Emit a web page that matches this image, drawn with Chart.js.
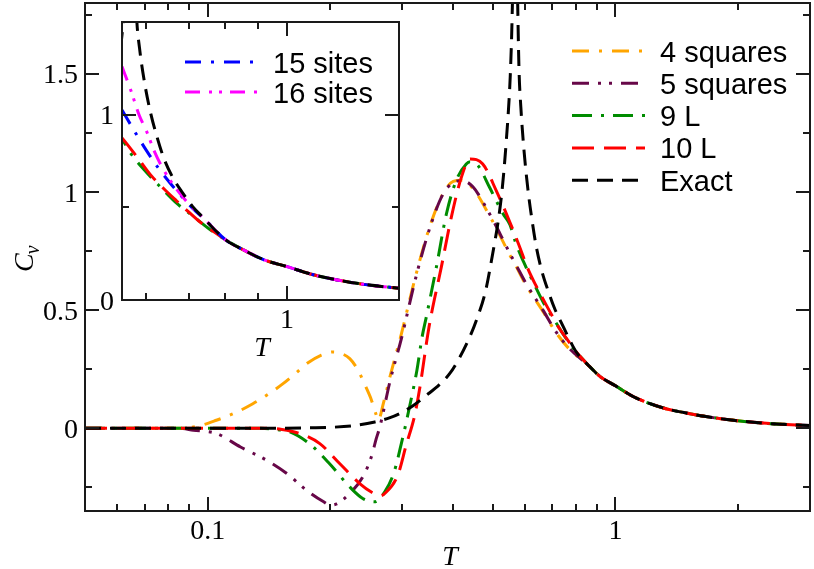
<!DOCTYPE html>
<html>
<head>
<meta charset="utf-8">
<script src="https://cdn.jsdelivr.net/npm/chart.js@4.4.1/dist/chart.umd.min.js"></script>
<style>
  html, body { margin: 0; padding: 0; background: #fff; }
  #wrap  { position: relative; width: 814px; height: 569px; }
  #main  { position: absolute; left: 0; top: 0; }
  #inset { position: absolute; left: 80px; top: 10px; }
</style>
</head>
<body>
<div id="wrap">
  <canvas id="main" width="814" height="569"></canvas>
  <canvas id="inset" width="330" height="350"></canvas>
</div>
<script>
// ======= Data =======
// high-T tail where every curve lies on the exact result
const tTail  = [0.86, 0.92, 1.0, 1.1, 1.2, 1.33, 1.5, 1.65, 1.9, 2.3, 2.7, 3.0];
const cvTail = [0.265, 0.217, 0.18, 0.136, 0.108, 0.083, 0.064, 0.051, 0.036, 0.022, 0.015, 0.012];

const tExact  = [0.05, 0.12, 0.15, 0.18, 0.2, 0.23, 0.257, 0.28, 0.3, 0.32, 0.344, 0.37, 0.392, 0.415,
                 0.439, 0.456, 0.48, 0.5, 0.515, 0.525, 0.532, 0.54, 0.547, 0.552, 0.558, 0.563, 0.567,
                 0.571, 0.575, 0.58, 0.586, 0.597, 0.61, 0.625, 0.64, 0.66, 0.685, 0.71, 0.74, 0.77, 0.8];
const cvExact = [0, 0, 0.0005, 0.002, 0.004, 0.012, 0.027, 0.045, 0.068, 0.098, 0.14, 0.185, 0.231, 0.3,
                 0.386, 0.457, 0.58, 0.74, 0.87, 0.98, 1.08, 1.22, 1.36, 1.49, 1.75, 2.15, 3.0,
                 2.2, 1.85, 1.52, 1.36, 1.17, 1.01, 0.875, 0.765, 0.665, 0.578, 0.505, 0.44, 0.378, 0.325];

const t4sq  = [0.05, 0.085, 0.095, 0.105, 0.117, 0.129, 0.141, 0.153, 0.164, 0.175, 0.19, 0.203, 0.213,
               0.223, 0.233, 0.242, 0.252, 0.258, 0.262, 0.27, 0.28, 0.2985, 0.3246, 0.35, 0.3773, 0.40,
               0.42, 0.447, 0.491, 0.53, 0.55, 0.571, 0.604, 0.664, 0.715, 0.771, 0.8];
const cv4sq = [0, 0, 0.01, 0.034, 0.066, 0.104, 0.145, 0.189, 0.232, 0.274, 0.31, 0.323, 0.316,
               0.295, 0.25, 0.19, 0.12, 0.065, 0.035, 0.11, 0.22, 0.40, 0.654, 0.851, 0.992, 1.045,
               1.05, 1.015, 0.9, 0.79, 0.735, 0.685, 0.605, 0.495, 0.405, 0.335, 0.31];

const t5sq  = [0.05, 0.085, 0.0922, 0.105, 0.1203, 0.1394, 0.156, 0.1746, 0.192, 0.2, 0.207, 0.223,
               0.24, 0.252, 0.259, 0.2643, 0.28, 0.2985, 0.3246, 0.35, 0.3773, 0.40, 0.42, 0.447,
               0.491, 0.53, 0.55, 0.571, 0.604, 0.664, 0.715, 0.771, 0.8];
const cv5sq = [0, 0, -0.008, -0.022, -0.079, -0.135, -0.19, -0.262, -0.31, -0.325, -0.32, -0.276,
               -0.206, -0.12, -0.044, 0.006, 0.2, 0.38, 0.645, 0.845, 0.99, 1.04, 1.048, 1.022,
               0.908, 0.798, 0.742, 0.69, 0.612, 0.5, 0.408, 0.338, 0.312];

const t9L  = [0.05, 0.135, 0.145, 0.159, 0.1775, 0.199, 0.223, 0.24, 0.2566, 0.2718, 0.2865, 0.2984,
              0.3125, 0.3258, 0.3355, 0.3436, 0.3637, 0.385, 0.407, 0.4306, 0.44, 0.46, 0.491, 0.53,
              0.551, 0.568, 0.595, 0.632, 0.671, 0.71, 0.75, 0.8];
const cv9L = [0, 0, -0.004, -0.015, -0.065, -0.15, -0.248, -0.297, -0.311, -0.269, -0.185, -0.065,
              0.09, 0.245, 0.386, 0.471, 0.682, 0.908, 1.049, 1.119, 1.128, 1.112, 1.02, 0.908,
              0.862, 0.79, 0.705, 0.61, 0.521, 0.455, 0.39, 0.325];

const t10L  = [0.05, 0.14, 0.152, 0.168, 0.1883, 0.2109, 0.2359, 0.253, 0.2643, 0.2718, 0.2924, 0.3066,
               0.3218, 0.331, 0.349, 0.374, 0.3957, 0.419, 0.44, 0.4726, 0.51, 0.55, 0.58, 0.61, 0.64,
               0.67, 0.70, 0.73, 0.76, 0.8];
const cv10L = [0, 0, -0.005, -0.022, -0.065, -0.15, -0.234, -0.272, -0.286, -0.276, -0.199, -0.072,
               0.055, 0.168, 0.43, 0.682, 0.893, 1.063, 1.14, 1.119, 1.006, 0.875, 0.775, 0.675, 0.6,
               0.535, 0.475, 0.42, 0.378, 0.325];

// inset only
const t15  = [0.55, 0.578, 0.6, 0.625, 0.655, 0.68, 0.71, 0.75, 0.8];
const cv15 = [1.025, 0.9, 0.81, 0.72, 0.63, 0.565, 0.495, 0.42, 0.325];
const t16  = [0.55, 0.568, 0.585, 0.603, 0.617, 0.64, 0.671, 0.70, 0.74, 0.8];
const cv16 = [1.26, 1.13, 1.0, 0.9, 0.81, 0.70, 0.595, 0.52, 0.44, 0.325];

// axes
const xMainLabels = [0.1, 1];
const xMainMinor  = [0.05, 0.06, 0.07, 0.08, 0.09, 0.2, 0.3, 0.4, 0.5, 0.6, 0.7, 0.8, 0.9, 2, 3];
const yMainLabels = [0, 0.5, 1, 1.5];
const yMainMinor  = [-0.25, 0.25, 0.75, 1.25, 1.75];
const xInsetLabels = [1];
const xInsetMinor  = [0.6, 0.7, 0.8, 0.9];
const yInsetLabels = [0, 1];
const yInsetMinor  = [0.5];

// ======= Styles =======
const COL = { exact: "#000000", sq4: "#ffa500", sq5: "#670748", l9: "#008c00", l10: "#ff0000",
              s15: "#0000ff", s16: "#ff00ff" };
const DASH = { exact: [16, 9], sq4: [17, 10, 3, 10], sq5: [17, 9, 3, 8, 3, 9], l9: [20, 9, 3, 9],
               l10: [22, 10], s15: [16, 10, 3, 10], s16: [15, 9, 3, 7, 3, 8] };
const SERIF = "'Liberation Serif', 'Times New Roman', serif";
const SANS  = "'Liberation Sans', Arial, sans-serif";

// ======= Helpers =======
const pts = (ts, cs) => ts.map((t, i) => ({ x: t, y: cs[i] }));
const withTail = (ts, cs) => pts(ts.concat(tTail), cs.concat(cvTail));
const ds = (label, data, key) => ({
  label, data,
  borderColor: COL[key], borderWidth: 3, borderDash: DASH[key],
  pointRadius: 0, fill: false, cubicInterpolationMode: "monotone"
});

// frame, inward ticks, tick labels, legend and titles
const deco = {
  id: "deco",
  beforeDraw(chart, args, o) {
    const { ctx, chartArea: a } = chart;
    ctx.save();
    if (o.pageBg) { ctx.fillStyle = "#fff"; ctx.fillRect(0, 0, chart.width, chart.height); }
    ctx.fillStyle = "#fff";
    ctx.fillRect(a.left, a.top, a.right - a.left, a.bottom - a.top);
    ctx.restore();
  },
  afterDraw(chart, args, o) {
    const { ctx, chartArea: a, scales: { x, y } } = chart;
    ctx.save();
    ctx.strokeStyle = "#1a1a1a";
    ctx.lineWidth = 2;
    ctx.setLineDash([]);
    ctx.strokeRect(a.left, a.top, a.right - a.left, a.bottom - a.top);

    ctx.beginPath();
    const xt = (vals, len) => vals.forEach(v => {
      const px = Math.round(x.getPixelForValue(v));
      ctx.moveTo(px, a.bottom); ctx.lineTo(px, a.bottom - len);
      ctx.moveTo(px, a.top);    ctx.lineTo(px, a.top + len);
    });
    const yt = (vals, len) => vals.forEach(v => {
      const py = Math.round(y.getPixelForValue(v));
      ctx.moveTo(a.left, py);  ctx.lineTo(a.left + len, py);
      ctx.moveTo(a.right, py); ctx.lineTo(a.right - len, py);
    });
    xt(o.xMajor, 14); xt(o.xMinor, 7);
    yt(o.yMajor, 14); yt(o.yMinor, 7);
    ctx.stroke();

    // tick labels
    ctx.fillStyle = "#000";
    ctx.font = "28px " + SERIF;
    ctx.textBaseline = "alphabetic";
    ctx.textAlign = "center";
    o.xMajor.forEach(v => ctx.fillText(String(v), x.getPixelForValue(v), a.bottom + 28));
    ctx.textAlign = "right";
    o.yMajor.forEach(v => ctx.fillText(String(v), a.left - o.yPad, y.getPixelForValue(v) + 9.5));

    // legend
    const L = o.legend;
    ctx.lineWidth = 3;
    ctx.font = "29px " + SANS;
    ctx.textAlign = "left";
    L.items.forEach((it, i) => {
      const ly = L.y0 + i * L.dy;
      ctx.strokeStyle = COL[it.key];
      ctx.setLineDash(DASH[it.key]);
      ctx.beginPath(); ctx.moveTo(L.x0, ly); ctx.lineTo(L.x1, ly); ctx.stroke();
      ctx.fillText(it.text, L.tx, ly + 10.5);
    });
    ctx.setLineDash([]);

    // axis titles
    ctx.font = "italic 28px " + SERIF;
    ctx.textAlign = "center";
    ctx.fillText("T", o.xTitle.x, o.xTitle.y);
    if (o.yTitle) {
      ctx.translate(o.yTitle.x, o.yTitle.y);
      ctx.rotate(-Math.PI / 2);
      ctx.textAlign = "left";
      ctx.fillText("C", 0, 0);
      const w = ctx.measureText("C").width;
      ctx.font = "italic 20px " + SERIF;
      ctx.fillText("v", w - 1, 6);
    }
    ctx.restore();
  }
};

const axisX = (min, max, h) => ({
  type: "logarithmic", min, max,
  grid: { display: false, drawTicks: false, tickLength: 0 },
  border: { display: false },
  ticks: { display: false },
  afterFit: s => { s.height = h; s.paddingLeft = 0; s.paddingRight = 0; }
});
const axisY = (min, max, w) => ({
  type: "linear", min, max,
  grid: { display: false, drawTicks: false, tickLength: 0 },
  border: { display: false },
  ticks: { display: false },
  afterFit: s => { s.width = w; s.paddingTop = 0; s.paddingBottom = 0; }
});

// ======= Main chart =======
new Chart(document.getElementById("main"), {
  type: "line",
  data: {
    datasets: [
      ds("Exact", withTail(tExact, cvExact), "exact"),
      ds("10 L", withTail(t10L, cv10L), "l10"),
      ds("9 L", withTail(t9L, cv9L), "l9"),
      ds("5 squares", withTail(t5sq, cv5sq), "sq5"),
      ds("4 squares", withTail(t4sq, cv4sq), "sq4")
    ]
  },
  options: {
    responsive: false, animation: false, devicePixelRatio: 1,
    layout: { padding: { left: 0, top: 3, right: 4, bottom: 0 } },
    plugins: {
      legend: { display: false }, tooltip: { enabled: false },
      deco: {
        pageBg: true, yPad: 7,
        xMajor: xMainLabels, xMinor: xMainMinor, yMajor: yMainLabels, yMinor: yMainMinor,
        legend: { x0: 572, x1: 645, tx: 660, y0: 51, dy: 32.3, items: [
          { key: "sq4", text: "4 squares" }, { key: "sq5", text: "5 squares" },
          { key: "l9", text: "9 L" }, { key: "l10", text: "10 L" }, { key: "exact", text: "Exact" } ] },
        xTitle: { x: 450, y: 565 },
        yTitle: { x: 33, y: 272 }
      }
    },
    scales: {
      x: axisX(0.05, 3, 58),
      y: axisY(-0.35, 1.8, 85)
    }
  },
  plugins: [deco]
});

// ======= Inset =======
new Chart(document.getElementById("inset"), {
  type: "line",
  data: {
    datasets: [
      ds("Exact", withTail(tExact, cvExact), "exact"),
      ds("16 sites", withTail(t16, cv16), "s16"),
      ds("15 sites", withTail(t15, cv15), "s15"),
      ds("10 L", withTail(t10L, cv10L), "l10"),
      ds("9 L", withTail(t9L, cv9L), "l9")
    ]
  },
  options: {
    responsive: false, animation: false, devicePixelRatio: 1,
    layout: { padding: { left: 0, top: 12, right: 11, bottom: 0 } },
    plugins: {
      legend: { display: false }, tooltip: { enabled: false },
      deco: {
        yPad: 8,
        xMajor: xInsetLabels, xMinor: xInsetMinor, yMajor: yInsetLabels, yMinor: yInsetMinor,
        legend: { x0: 105, x1: 177, tx: 193, y0: 52, dy: 30, items: [
          { key: "s15", text: "15 sites" }, { key: "s16", text: "16 sites" } ] },
        xTitle: { x: 182, y: 346 }
      }
    },
    scales: {
      x: axisX(0.55, 1.5, 60),
      y: axisY(0, 1.5, 42)
    }
  },
  plugins: [deco]
});
</script>
</body>
</html>
